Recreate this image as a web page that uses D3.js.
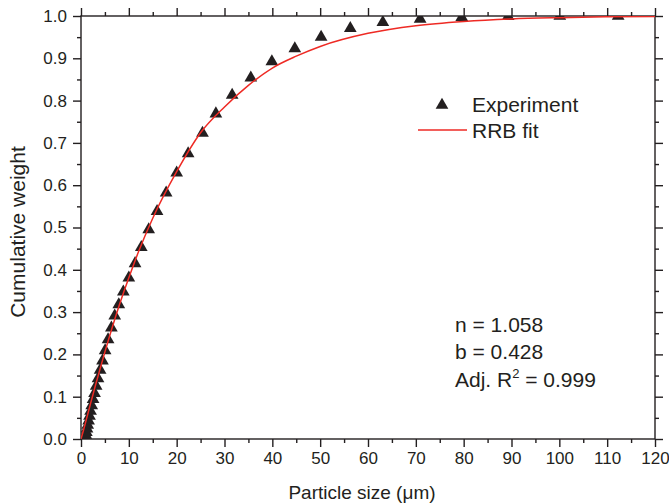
<!DOCTYPE html>
<html>
<head>
<meta charset="utf-8">
<script src="https://d3js.org/d3.v7.min.js"></script>
<style>
    body { margin: 0; background: #fff; }
    svg text { font-family: "Liberation Sans", Arial, sans-serif; fill: #231f20; }
    .axis path, .axis line { stroke: #231f20; stroke-width: 1.4; }
</style>
</head>
<body>
<div id="container"></div>
<script>
// experiment: particle size (um) and cumulative weight
var expSize = [0.89, 1.0, 1.12, 1.26, 1.41, 1.59, 1.78, 2.0, 2.24, 2.52, 2.83, 3.17, 3.56, 4.0, 4.49,
    5.04, 5.66, 6.35, 7.05, 7.9, 8.85, 10.0, 11.3, 12.6, 14.15, 15.9, 17.8, 20.0, 22.4, 25.4,
    28.2, 31.6, 35.5, 39.9, 44.7, 50.2, 56.3, 63.1, 70.9, 79.6, 89.3, 100.1, 112.3];
var expWeight = [0.004, 0.009, 0.016, 0.024, 0.033, 0.043, 0.054, 0.066, 0.079, 0.094, 0.108, 0.125, 0.143, 0.163, 0.185,
    0.209, 0.235, 0.263, 0.291, 0.318, 0.348, 0.381, 0.415, 0.453, 0.495, 0.538, 0.582, 0.629, 0.675, 0.723,
    0.769, 0.813, 0.854, 0.892, 0.923, 0.950, 0.971, 0.985, 0.993, 0.997, 0.999, 1.0, 1.0];

// RRB fit curve
var fitSize = [0, 0.5, 1, 2, 3, 4, 5, 6, 8, 10, 12, 15, 20, 25, 30, 35, 40, 45, 50, 60, 70, 80, 90, 100, 110, 120];
var fitWeight = [0, 0.020, 0.041, 0.084, 0.126, 0.166, 0.206, 0.244, 0.316, 0.381, 0.442, 0.522, 0.632, 0.724, 0.785,
    0.836, 0.877, 0.905, 0.928, 0.959, 0.977, 0.987, 0.993, 0.996, 0.998, 0.999];

var xTicks = [0, 10, 20, 30, 40, 50, 60, 70, 80, 90, 100, 110, 120];
var yTicks = [0.0, 0.1, 0.2, 0.3, 0.4, 0.5, 0.6, 0.7, 0.8, 0.9, 1.0];
var params = ["n = 1.058", "b = 0.428"];

var W = 669, H = 504;
var margin = {top: 16, right: 14, bottom: 65, left: 81};
var width = W - margin.left - margin.right,
    height = H - margin.top - margin.bottom;

var svg = d3.select("#container").append("svg")
    .attr("width", W)
    .attr("height", H);

var g = svg.append("g")
    .attr("transform", "translate(" + margin.left + "," + margin.top + ")");

var x = d3.scaleLinear().domain([0, 120]).range([0, width]);
var y = d3.scaleLinear().domain([0, 1]).range([height, 0]);

var xMinor = d3.range(5, 120, 10);
var yMinor = d3.range(0.05, 1, 0.1);

function styleTicks(sel) {
    sel.selectAll("text").style("font-size", "17px");
}

// minor ticks first
g.append("g").attr("class", "axis").attr("transform", "translate(0," + height + ")")
    .call(d3.axisBottom(x).tickValues(xMinor).tickSize(4).tickFormat(""));
g.append("g").attr("class", "axis")
    .call(d3.axisTop(x).tickValues(xMinor).tickSize(4).tickFormat(""));
g.append("g").attr("class", "axis")
    .call(d3.axisLeft(y).tickValues(yMinor).tickSize(4).tickFormat(""));
g.append("g").attr("class", "axis").attr("transform", "translate(" + width + ",0)")
    .call(d3.axisRight(y).tickValues(yMinor).tickSize(4).tickFormat(""));

g.append("g").attr("class", "axis").attr("transform", "translate(0," + height + ")")
    .call(d3.axisBottom(x).tickValues(xTicks).tickSize(8).tickPadding(5).tickSizeOuter(0))
    .call(styleTicks);
g.append("g").attr("class", "axis")
    .call(d3.axisTop(x).tickValues(xTicks).tickSize(8).tickFormat("").tickSizeOuter(0));
g.append("g").attr("class", "axis")
    .call(d3.axisLeft(y).tickValues(yTicks).tickSize(8).tickPadding(6).tickFormat(d3.format(".1f")).tickSizeOuter(0))
    .call(styleTicks);
g.append("g").attr("class", "axis").attr("transform", "translate(" + width + ",0)")
    .call(d3.axisRight(y).tickValues(yTicks).tickSize(8).tickFormat("").tickSizeOuter(0));

g.selectAll(".axis .domain").remove();

g.append("rect")
    .attr("width", width)
    .attr("height", height)
    .attr("fill", "none")
    .attr("stroke", "#231f20")
    .attr("stroke-width", 1.4);

g.append("clipPath").attr("id", "plotClip")
    .append("rect").attr("width", width).attr("height", height);

var plot = g.append("g").attr("clip-path", "url(#plotClip)");

var tri = d3.symbol().type(d3.symbolTriangle).size(70);

plot.selectAll("path.pt")
    .data(expSize.map(function(d, i) { return [d, expWeight[i]]; }))
    .enter().append("path")
    .attr("class", "pt")
    .attr("d", tri)
    .attr("transform", function(d) { return "translate(" + x(d[0]) + "," + y(d[1]) + ")"; })
    .attr("fill", "#231f20");

var line = d3.line()
    .x(function(d) { return x(d[0]); })
    .y(function(d) { return y(d[1]); })
    .curve(d3.curveMonotoneX);

plot.append("path")
    .datum(fitSize.map(function(d, i) { return [d, fitWeight[i]]; }))
    .attr("d", line)
    .attr("fill", "none")
    .attr("stroke", "#ee2a24")
    .attr("stroke-width", 1.5);

// legend
var leg = svg.append("g");
leg.append("path")
    .attr("d", tri)
    .attr("transform", "translate(442,105)")
    .attr("fill", "#231f20");
leg.append("text").attr("x", 472).attr("y", 112).style("font-size", "21px").text("Experiment");
leg.append("line")
    .attr("x1", 418).attr("x2", 467).attr("y1", 130).attr("y2", 130)
    .attr("stroke", "#ee2a24").attr("stroke-width", 1.5);
leg.append("text").attr("x", 472).attr("y", 138).style("font-size", "21px").text("RRB fit");

// fit parameters
params.forEach(function(p, i) {
    svg.append("text").attr("x", 455).attr("y", 332 + i * 27).style("font-size", "21px").text(p);
});
var r2 = svg.append("text").attr("x", 455).attr("y", 387).style("font-size", "21px");
r2.append("tspan").text("Adj. R");
r2.append("tspan").attr("dy", -9).style("font-size", "13px").text("2");
r2.append("tspan").attr("dy", 9).text(" = 0.999");

// axis titles
svg.append("text")
    .attr("x", 362)
    .attr("y", 499)
    .attr("text-anchor", "middle")
    .style("font-size", "19px")
    .text("Particle size (\u03bcm)");

svg.append("text")
    .attr("transform", "translate(25,232)rotate(-90)")
    .attr("text-anchor", "middle")
    .style("font-size", "21px")
    .text("Cumulative weight");
</script>
</body>
</html>
